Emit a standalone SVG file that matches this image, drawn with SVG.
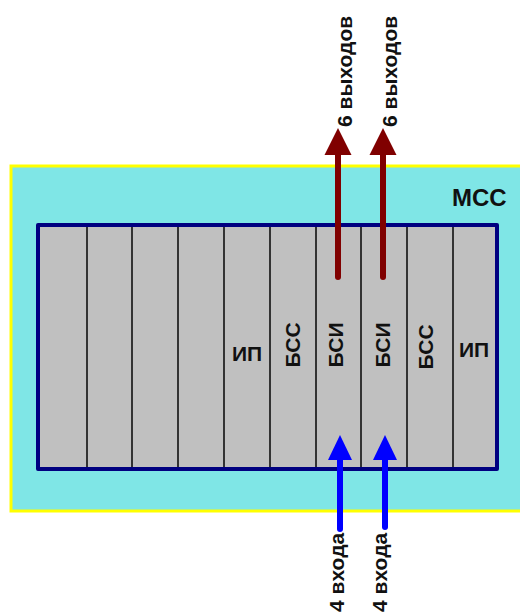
<svg xmlns="http://www.w3.org/2000/svg" width="520" height="615" viewBox="0 0 520 615">
<defs>
<style>
.lbl{font-family:"Liberation Sans",Arial,sans-serif;font-weight:bold;fill:#111;}
.div{stroke:#333;stroke-width:2;}
.out{stroke:#800000;stroke-width:6;stroke-linecap:round;fill:none;marker-end:url(#hRed);}
.in{stroke:#0000ff;stroke-width:6;stroke-linecap:round;fill:none;marker-end:url(#hBlue);}
</style>
<marker id="hRed" markerUnits="userSpaceOnUse" viewBox="0 -14 28 28" markerWidth="28" markerHeight="28" refX="0" refY="0" orient="auto">
<path d="M0,-13.5 L27,0 L0,13.5 Z" fill="#800000"/>
</marker>
<marker id="hBlue" markerUnits="userSpaceOnUse" viewBox="0 -13 26 26" markerWidth="26" markerHeight="26" refX="0" refY="0" orient="auto">
<path d="M0,-12 L25,0 L0,12 Z" fill="#0000ff"/>
</marker>
</defs>
<rect width="520" height="615" fill="#ffffff"/>
<g id="msc">
<rect x="11" y="166" width="520" height="345" fill="#7fe6e6" stroke="#ffff00" stroke-width="3"/>
<text class="lbl" x="452" y="206" font-size="24">МСС</text>
</g>
<g id="rack">
<rect x="38" y="225" width="459" height="244" fill="#c0c0c0" stroke="#000080" stroke-width="4" stroke-linejoin="round"/>
<line class="div" x1="87" y1="227" x2="87" y2="467"/>
<line class="div" x1="132" y1="227" x2="132" y2="467"/>
<line class="div" x1="178" y1="227" x2="178" y2="467"/>
<line class="div" x1="224" y1="227" x2="224" y2="467"/>
<line class="div" x1="270" y1="227" x2="270" y2="467"/>
<line class="div" x1="316" y1="227" x2="316" y2="467"/>
<line class="div" x1="361" y1="227" x2="361" y2="467"/>
<line class="div" x1="407" y1="227" x2="407" y2="467"/>
<line class="div" x1="453" y1="227" x2="453" y2="467"/>
</g>
<g id="ip1"><text class="lbl" x="247" y="361" font-size="21" text-anchor="middle">ИП</text></g>
<g id="bss1"><text class="lbl" font-size="21" text-anchor="middle" transform="translate(300,345) rotate(-90)">БСС</text></g>
<g id="bsi1"><text class="lbl" font-size="21" text-anchor="middle" transform="translate(343,345) rotate(-90)">БСИ</text></g>
<g id="bsi2"><text class="lbl" font-size="21" text-anchor="middle" transform="translate(390,345) rotate(-90)">БСИ</text></g>
<g id="bss2"><text class="lbl" font-size="21" text-anchor="middle" transform="translate(433,347) rotate(-90)">БСС</text></g>
<g id="ip2"><text class="lbl" x="474" y="357" font-size="21" text-anchor="middle">ИП</text></g>
<g id="connectors">
<line class="out" x1="338" y1="277" x2="338" y2="155"/>
<line class="out" x1="383" y1="277" x2="383" y2="155"/>
<line class="in" x1="340" y1="529" x2="340" y2="460"/>
<line class="in" x1="385" y1="527" x2="385" y2="460"/>
</g>
<g id="labels">
<text class="lbl" font-size="21" transform="translate(352,127) rotate(-90)">6 выходов</text>
<text class="lbl" font-size="21" transform="translate(397,127) rotate(-90)">6 выходов</text>
<text class="lbl" font-size="21" transform="translate(344,612) rotate(-90)">4 входа</text>
<text class="lbl" font-size="21" transform="translate(387,612) rotate(-90)">4 входа</text>
</g>
</svg>
